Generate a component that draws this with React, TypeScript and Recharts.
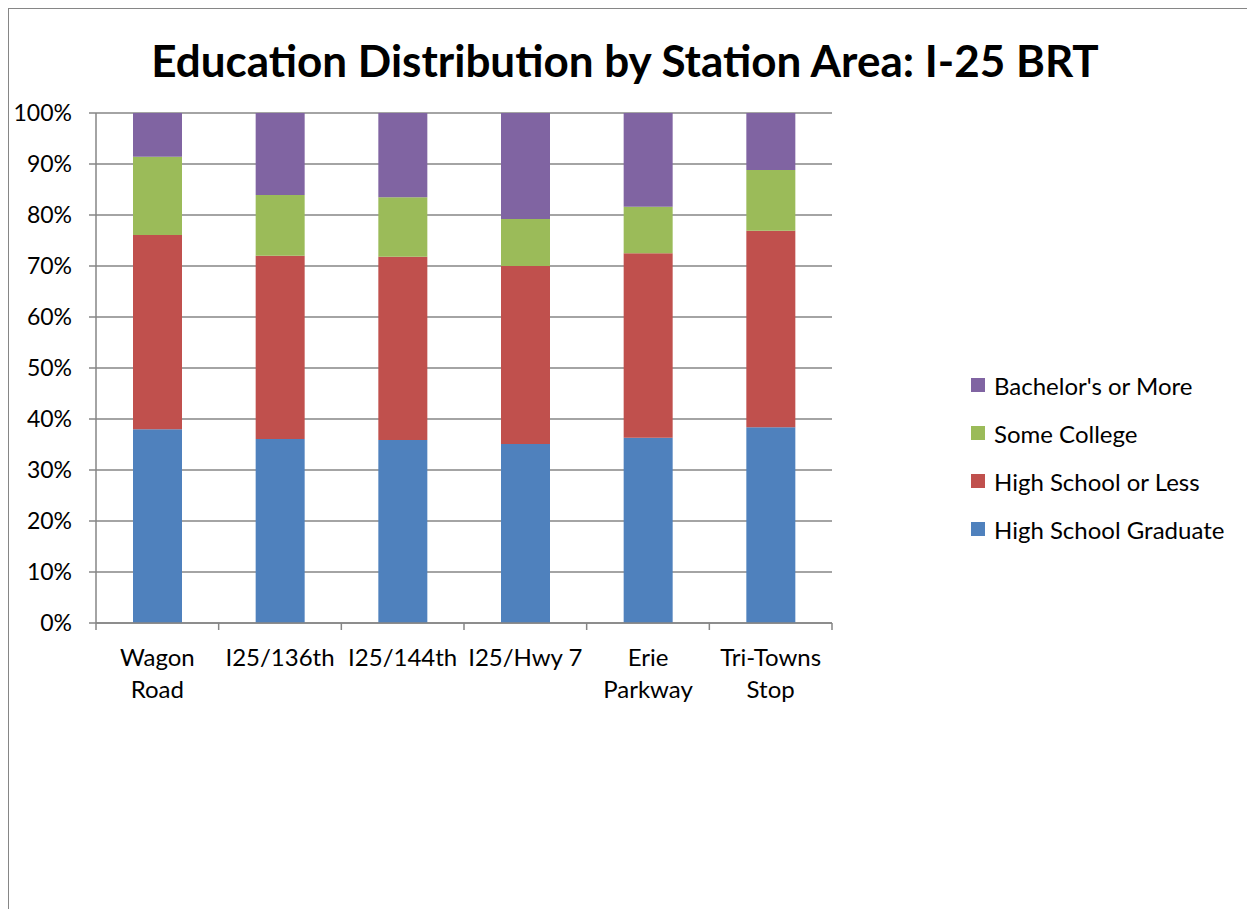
import React from "react";
import { Bar, BarChart, CartesianGrid, XAxis, YAxis } from "recharts";

const estaciones = ["Wagon Road", "I25/136th", "I25/144th", "I25/Hwy 7", "Erie Parkway", "Tri-Towns Stop"];
const etiquetas = [["Wagon", "Road"], ["I25/136th"], ["I25/144th"], ["I25/Hwy 7"], ["Erie", "Parkway"], ["Tri-Towns", "Stop"]];

const graduado = [38.0, 36.1, 35.9, 35.1, 36.3, 38.4];
const menosSecundaria = [38.1, 35.9, 35.9, 34.9, 36.2, 38.5];
const algoUniversidad = [15.3, 11.9, 11.7, 9.2, 9.1, 11.9];
const licenciatura = [8.6, 16.1, 16.5, 20.8, 18.4, 11.2];

const ticksY = [0, 10, 20, 30, 40, 50, 60, 70, 80, 90, 100];

const series = [
  { key: "graduado", name: "High School Graduate", color: "#4F81BD" },
  { key: "menos", name: "High School or Less", color: "#C0504D" },
  { key: "algo", name: "Some College", color: "#9BBB59" },
  { key: "lic", name: "Bachelor's or More", color: "#8064A2" }
];

const datos = estaciones.map((estacion, i) => ({
  estacion,
  graduado: graduado[i],
  menos: menosSecundaria[i],
  algo: algoUniversidad[i],
  lic: licenciatura[i]
}));

const FUENTE = "Lato, 'Open Sans', sans-serif";
const GRIS = "#868686";
const ANCHO_PLOT = 736;
const MEDIA_BANDA = ANCHO_PLOT / estaciones.length / 2;

const TickX = (props: any) => {
  const { x, y, payload, index } = props;
  const lineas = etiquetas[index] ?? [payload.value];
  return (
    <g>
      <line x1={x - MEDIA_BANDA} x2={x - MEDIA_BANDA} y1={y - 8} y2={y - 1} stroke={GRIS} strokeWidth={1.5} />
      {index === estaciones.length - 1 && (
        <line x1={x + MEDIA_BANDA} x2={x + MEDIA_BANDA} y1={y - 8} y2={y - 1} stroke={GRIS} strokeWidth={1.5} />
      )}
      {lineas.map((l, j) => (
        <text key={j} x={x} y={y + 35 + j * 32} textAnchor="middle" fontSize={24} fill="#000" fontFamily={FUENTE}>
          {l}
        </text>
      ))}
    </g>
  );
};

const Leyenda = () => (
  <div style={{ position: "absolute", left: 962, top: 352, fontFamily: FUENTE, fontSize: 24, color: "#000" }}>
    {[...series].reverse().map((s) => (
      <div key={s.key} style={{ display: "flex", alignItems: "center", height: 48 }}>
        <span style={{ width: 14, height: 14, background: s.color, marginRight: 9, display: "inline-block" }} />
        <span>{s.name}</span>
      </div>
    ))}
  </div>
);

export default function App() {
  return (
    <div
      style={{
        position: "relative",
        width: 1246,
        height: 900,
        borderTop: `1px solid ${GRIS}`,
        borderLeft: `1px solid ${GRIS}`,
        background: "#fff"
      }}>
      <div
        style={{
          position: "absolute",
          top: 25,
          left: 0,
          width: 1232,
          textAlign: "center",
          fontFamily: FUENTE,
          fontWeight: 700,
          fontSize: 44,
          color: "#000"
        }}>
        Education Distribution by Station Area: I-25 BRT
      </div>
      <BarChart
        width={1246}
        height={900}
        data={datos}
        margin={{ top: 104, right: 423, bottom: 226, left: 20 }}
        barSize={49}>
        <CartesianGrid vertical={false} stroke={GRIS} strokeWidth={1.5} />
        <XAxis
          dataKey="estacion"
          height={60}
          tick={<TickX />}
          tickLine={false}
          axisLine={{ stroke: GRIS, strokeWidth: 1.5 }}
          interval={0}
        />
        <YAxis
          width={67}
          domain={[0, 100]}
          ticks={ticksY}
          tickFormatter={(v) => `${v}%`}
          tick={{ fontSize: 23, fill: "#000", fontFamily: FUENTE }}
          tickSize={7}
          tickMargin={17}
          tickLine={{ stroke: GRIS, strokeWidth: 1.5 }}
          axisLine={{ stroke: GRIS, strokeWidth: 1.5 }}
          allowDataOverflow
        />
        {series.map((s) => (
          <Bar key={s.key} dataKey={s.key} name={s.name} stackId="a" fill={s.color} isAnimationActive={false} />
        ))}
      </BarChart>
      <Leyenda />
    </div>
  );
}
